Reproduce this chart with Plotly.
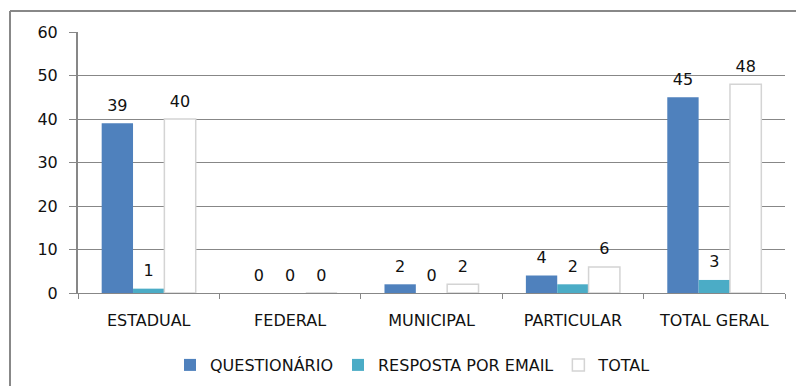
import plotly.graph_objects as go

# Categories and series
categories = ["ESTADUAL", "FEDERAL", "MUNICIPAL", "PARTICULAR", "TOTAL GERAL"]
questionario = [39, 0, 2, 4, 45]
resposta_email = [1, 0, 0, 2, 3]
total = [40, 0, 2, 6, 48]

series_names = ["QUESTIONÁRIO", "RESPOSTA POR EMAIL", "TOTAL"]
y_ticks = [0, 10, 20, 30, 40, 50, 60]

FONT = "DejaVu Sans"
FS = 16
TXT = "#111111"
GRID = "#878787"

fig = go.Figure()

styles = [
    dict(color="#4F81BD", line=dict(width=0)),
    dict(color="#4BACC6", line=dict(width=0)),
    dict(color="#FFFFFF", line=dict(color="#D4D4D4", width=1.5)),
]

all_series = [questionario, resposta_email, total]

for i, (name, vals, st) in enumerate(zip(series_names, all_series, styles)):
    fig.add_trace(go.Bar(
        x=categories,
        y=vals,
        name=name,
        marker=st,
        offsetgroup=str(i),
        alignmentgroup="g",
        hoverinfo="skip",
    ))

# value labels, grouped the same way as the bars; the invisible marker
# sets the gap between the bar top and its label
for i, vals in enumerate(all_series):
    fig.add_trace(go.Scatter(
        x=categories,
        y=vals,
        mode="markers+text",
        text=[str(v) for v in vals],
        textposition="top center",
        textfont=dict(family=FONT, size=FS, color=TXT),
        marker=dict(size=12, color="rgba(0,0,0,0)"),
        offsetgroup=str(i),
        alignmentgroup="g",
        cliponaxis=False,
        showlegend=False,
        hoverinfo="skip",
    ))

W, H = 796, 386
ml, mr, mt, mb = 78, 11, 32, 93
pw, ph = W - ml - mr, H - mt - mb


def px_x(px):
    return (px - ml) / pw


def px_y(py):
    return (H - mb - py) / ph


fig.update_layout(
    width=W,
    height=H,
    margin=dict(l=ml, r=mr, t=mt, b=mb, pad=0, autoexpand=False),
    paper_bgcolor="white",
    plot_bgcolor="white",
    barmode="group",
    bargap=0.335,
    bargroupgap=0,
    scattermode="group",
    scattergap=0.335,
    font=dict(family=FONT, size=FS, color=TXT),
    showlegend=True,
    legend=dict(
        orientation="h",
        x=px_x(413),
        xanchor="center",
        y=px_y(365),
        yanchor="middle",
        font=dict(family=FONT, size=FS, color=TXT),
        itemclick=False,
        bgcolor="rgba(0,0,0,0)",
    ),
    xaxis=dict(
        type="category",
        showgrid=False,
        showline=True,
        linecolor=GRID,
        linewidth=1,
        ticks="outside",
        tickson="boundaries",
        ticklen=5,
        tickcolor=GRID,
        tickwidth=1,
        ticklabelstandoff=13,
        tickfont=dict(family=FONT, size=FS, color=TXT),
        fixedrange=True,
    ),
    yaxis=dict(
        range=[0, 60],
        tickvals=y_ticks,
        showgrid=True,
        gridcolor=GRID,
        gridwidth=1,
        zeroline=False,
        showline=True,
        linecolor=GRID,
        linewidth=2,
        ticks="outside",
        ticklen=7,
        tickcolor=GRID,
        tickwidth=1,
        ticklabelstandoff=8,
        tickfont=dict(family=FONT, size=FS, color=TXT),
        fixedrange=True,
    ),
    shapes=[
        # outer frame (top and left edges)
        dict(type="line", xref="paper", yref="paper",
             x0=px_x(10), x1=px_x(800), y0=px_y(11), y1=px_y(11),
             line=dict(color="#888888", width=2)),
        dict(type="line", xref="paper", yref="paper",
             x0=px_x(10), x1=px_x(10), y0=px_y(11), y1=px_y(392),
             line=dict(color="#888888", width=2)),
    ],
)

fig.write_html("out.html")
